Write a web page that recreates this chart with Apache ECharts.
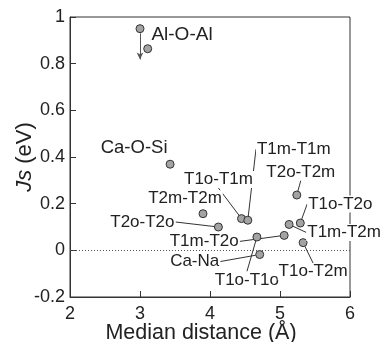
<!DOCTYPE html>
<html><head><meta charset="utf-8">
<script src="https://cdn.jsdelivr.net/npm/echarts@6/dist/echarts.min.js"></script>
<style>html,body{margin:0;padding:0;background:#fff}#c{width:382px;height:342px}</style>
</head><body><div id="c"></div>
<script>
// Data
const names = ['Al-O-Al','','Ca-O-Si','T2m-T2m','T2o-T2o','T1o-T1m','T1m-T1m','T1o-T1o','Ca-Na','T1m-T2o','T1m-T2m','T2o-T2m','T1o-T2o','T1o-T2m'];
const distance = [3.0, 3.11, 3.43, 3.90, 4.12, 4.45, 4.54, 4.67, 4.71, 5.06, 5.13, 5.24, 5.29, 5.33];
const js = [0.95, 0.864, 0.369, 0.157, 0.100, 0.136, 0.129, 0.057, -0.018, 0.064, 0.111, 0.237, 0.117, 0.033];
const xTicks = [2, 3, 4, 5, 6];
const yTicks = [-0.2, 0, 0.2, 0.4, 0.6, 0.8, 1];
const arrowFrom = [3.0, 0.93];
const arrowTo = [3.0, 0.818];

// Layout of label annotations (pixel offsets from point), styles
const labelOffset = [[42,6],[0,0],[-36,-16],[-18,-15],[-76,-5],[-23,-39],[46,-71],[-10,43],[-65,7],[-80,6],[55,8],[4,-23],[40,-19],[10,29]];
const showLine = [false,false,false,false,true,true,true,true,true,true,true,true,true,true];
const smoothLine = [false,false,false,false,false,false,0.5,0.5,false,0.5,false,false,0.4,0.4];
const labelSize = [19,17,18.5,17,17,17,17,17,17,17,17,17,17,17];

const FONT = "'Liberation Sans', Arial, sans-serif";
const data = distance.map((d, i) => ({
  value: [d, js[i]],
  name: names[i],
  label: { show: names[i] !== '', fontSize: labelSize[i] },
  labelLine: { show: showLine[i], smooth: smoothLine[i] }
}));

const chart = echarts.init(document.getElementById('c'), null, {renderer: 'canvas'});
chart.setOption({
  animation: false,
  backgroundColor: '#fff',
  grid: { left: 70, right: 32, top: 17, bottom: 45, show: true, borderColor: '#333', borderWidth: 1,
    containLabel: false, outerBoundsMode: 'none' },
  xAxis: {
    type: 'value', min: xTicks[0], max: xTicks[xTicks.length-1], interval: 1,
    name: 'Median distance (Å)', nameLocation: 'middle', nameGap: 25, nameMoveOverlap: false,
    nameTextStyle: { fontFamily: FONT, fontSize: 21.5, color: '#222', padding: [0, 18, 0, 0] },
    axisLine: { onZero: false, lineStyle: { color: '#333', width: 1 } },
    axisTick: { inside: true, length: 6, lineStyle: { color: '#333' } },
    axisLabel: { fontFamily: FONT, fontSize: 18, color: '#222', margin: 8 },
    splitLine: { show: false }
  },
  yAxis: {
    type: 'value', min: yTicks[0], max: yTicks[yTicks.length-1], interval: 0.2,
    name: '{i|Js} (eV)', nameLocation: 'middle', nameGap: 34, nameMoveOverlap: false,
    nameTextStyle: { fontFamily: FONT, fontSize: 22, color: '#222',
      rich: { i: { fontFamily: FONT, fontSize: 22, fontStyle: 'italic', color: '#222' } } },
    axisLine: { onZero: false, lineStyle: { color: '#333', width: 1 } },
    axisTick: { inside: true, length: 6, lineStyle: { color: '#333' } },
    axisLabel: { fontFamily: FONT, fontSize: 18, color: '#222', margin: 5,
      formatter: v => String(Math.round(v * 10) / 10) },
    splitLine: { show: false }
  },
  series: [{
    type: 'scatter',
    data: data,
    symbol: 'circle', symbolSize: 8,
    itemStyle: { color: '#a3a3a3', borderColor: '#333', borderWidth: 1, opacity: 1 },
    label: { show: true, position: 'inside', formatter: p => p.name, fontFamily: FONT, color: '#222',
      backgroundColor: '#fff', padding: [0, 1] },
    labelLine: { show: true, lineStyle: { color: '#333', width: 1 } },
    labelLayout: p => ({ dx: labelOffset[p.dataIndex][0], dy: labelOffset[p.dataIndex][1] }),
    emphasis: { disabled: true },
    z: 3,
    markLine: {
      silent: true, animation: false,
      label: { show: false },
      data: [
        [{ yAxis: 0, x: 70, symbol: 'none', lineStyle: { type: [1, 2], color: '#555', width: 1 } },
         { yAxis: 0, x: 350, symbol: 'none' }],
        [{ coord: arrowFrom, symbol: 'none', lineStyle: { type: 'solid', color: '#555', width: 1 } },
         { coord: arrowTo, symbol: 'arrow', symbolSize: [5, 7] }]
      ]
    }
  }]
});
</script></body></html>
